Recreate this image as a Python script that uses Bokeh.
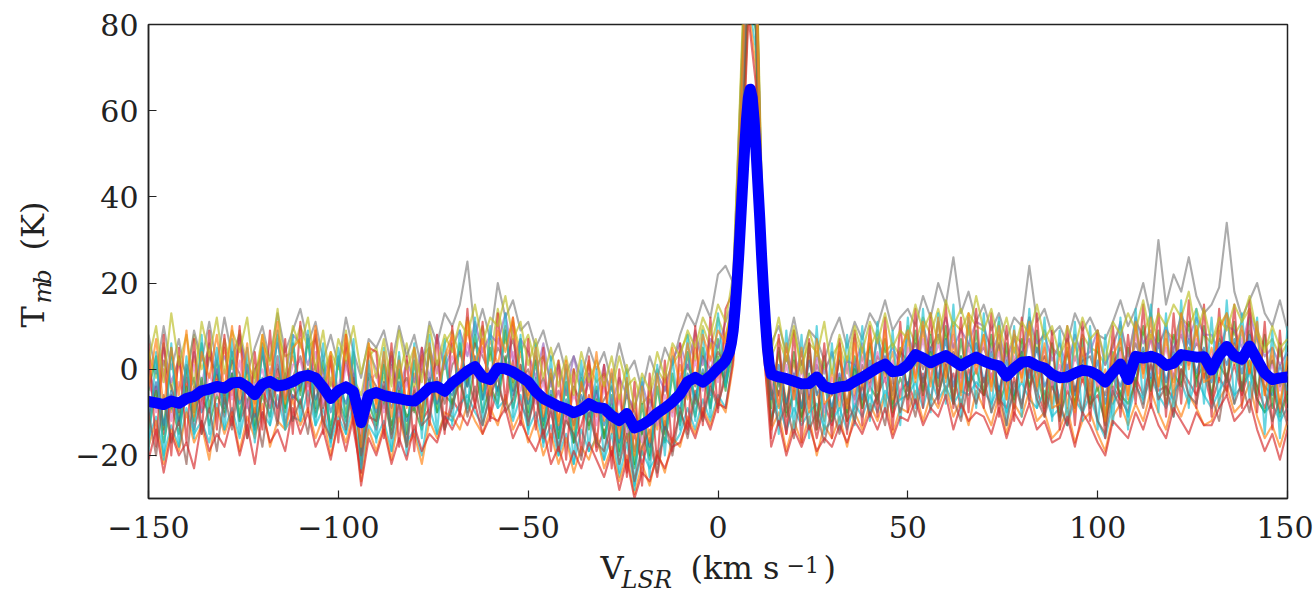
import math
from bokeh.plotting import figure
from bokeh.layouts import row, column
from bokeh.models import Range1d, Label, FixedTicker
from bokeh.embed import file_html
from bokeh.resources import INLINE

# ---------------- data ----------------
chan_v = list(range(-150, 151, 2))  # channel velocities of the individual spectra (km/s)

spec_00 = [1,-9,0,-10,2,-5,3,-8,4,-3,
           5,-6,6,-2,-8,4,-4,7,-3,3,
           -5,8,0,-6,2,-9,5,-3,-14,1,
           -8,2,-7,3,-9,-1,-10,4,-5,2,
           6,-4,9,2,-5,7,1,10,-3,4,
           -6,3,-9,-2,-12,0,-13,-4,2,-11,
           -3,-15,-6,-17,-8,-20,-5,-14,-2,-10,
           1,-7,5,-4,6,-2,8,14,58,105,
           92,18,-6,4,-8,2,-9,3,-5,-12,
           0,-9,3,-6,5,-3,8,-2,4,-7,
           7,-2,9,0,11,-3,6,-5,10,1,
           8,-4,6,-7,5,-2,10,-5,3,-8,
           4,-9,6,-3,7,-5,0,-8,8,-6,
           10,-1,8,-4,7,-3,11,0,9,-2,
           5,-3,12,1,9,-1,8,-6,3,-8,2]
spec_01 = [-12,-4,-15,-6,-13,-2,-14,-7,-10,-1,
           -11,-3,-12,-8,-14,-5,-9,0,-13,-6,
           -8,-2,-10,-5,-15,-9,-3,-12,-22,-10,
           -14,-5,-13,-8,-16,-4,-12,-9,-3,-14,
           -7,-10,-2,-8,-1,-11,-4,-9,2,-8,
           -12,-6,-15,-10,-18,-11,-17,-13,-6,-19,
           -14,-20,-12,-24,-15,-22,-16,-25,-13,-17,
           -10,-14,-5,-11,-3,-8,-2,6,48,92,
           80,9,-12,-5,-15,-4,-11,-6,-16,-8,
           -13,-5,-12,-9,-4,-10,-6,-2,-11,-5,
           -3,-8,-1,-7,2,-5,-1,-9,0,-4,
           -6,-1,-7,-9,-2,-8,0,-5,-10,-3,
           -11,-5,-9,-2,-8,-6,-12,-4,-7,-10,
           -2,-6,1,-5,-4,-7,0,-3,-6,-1,
           -8,-2,-5,1,-6,0,-4,-9,-3,-10,-5]
spec_02 = [4,-2,6,-5,3,-1,8,0,5,-2,
           7,0,9,1,-2,6,2,8,3,4,
           10,5,7,-1,4,0,9,-2,-6,3,
           5,-3,4,-2,6,-4,3,5,-1,6,
           9,3,12,5,10,2,14,6,11,4,
           8,1,3,-3,2,-6,0,-5,1,-3,
           -1,-5,3,-4,-2,-8,-6,0,-3,1,
           4,8,2,10,5,12,7,18,68,118,
           100,25,3,7,2,9,1,6,4,0,
           3,6,-1,8,2,5,9,4,6,3,
           10,6,12,8,14,7,11,9,13,10,
           9,5,11,3,8,6,12,4,9,5,
           3,7,2,8,5,4,1,6,10,3,
           11,8,13,6,9,7,12,10,14,8,
           6,10,13,8,11,14,9,5,7,3,6]
spec_03 = [-16,-11,-20,-13,-18,-9,-15,-12,-17,-8,
           -14,-9,-16,-7,-15,-10,-13,-6,-14,-11,
           -12,-5,-13,-9,-17,-11,-15,-8,-24,-13,
           -16,-12,-19,-10,-17,-14,-20,-9,-15,-11,
           -12,-8,-6,-10,-13,-5,-9,-7,-12,-6,
           -14,-10,-17,-13,-20,-15,-22,-14,-19,-16,
           -21,-15,-25,-17,-27,-19,-23,-20,-16,-18,
           -15,-9,-14,-7,-12,-6,-9,3,42,86,
           74,6,-11,-8,-14,-9,-13,-10,-8,-14,
           -12,-9,-14,-8,-11,-6,-10,-5,-9,-7,
           -6,-3,-9,-2,-7,-4,-8,-5,-6,-3,
           -5,-8,-4,-10,-6,-3,-7,-9,-5,-11,
           -9,-13,-7,-10,-6,-12,-16,-8,-5,-11,
           -4,-7,-2,-6,-9,-5,-3,-8,-2,-6,
           -9,-5,-2,-6,-4,-1,-7,-10,-8,-12,-9]
spec_04 = [-5,3,-14,5,-12,0,-10,6,-9,2,
           -8,4,-11,1,-13,5,-7,3,-10,6,
           -6,7,-9,2,-16,3,-11,4,-21,-2,
           -12,1,-14,0,-15,2,-11,5,-10,3,
           -9,6,-4,8,-7,5,-6,9,-5,7,
           -10,2,-13,-1,-16,-3,-17,-2,-14,-4,
           -16,-6,-19,-3,-22,-8,-20,-4,-15,-1,
           -12,4,-8,5,-9,7,-5,11,52,99,
           86,12,-9,5,-10,4,-11,6,-12,3,
           -11,4,-12,3,-9,6,-8,7,-10,5,
           -5,9,-6,8,-4,10,-7,7,-5,9,
           -6,8,-7,6,-9,7,-5,9,-8,6,
           -10,5,-9,7,-8,6,-11,4,-7,5,
           -4,10,-5,9,-6,8,-3,11,-4,10,
           -7,9,-3,11,-5,12,-6,8,-9,6,-8]
spec_05 = [-3,-8,2,-4,-10,1,-3,-9,3,-1,
           -6,2,-1,-8,0,3,-5,1,-7,-2,
           3,-4,1,-9,-3,-6,2,-7,-17,-1,
           -4,-9,1,-5,-2,-10,0,-3,2,-8,
           1,4,-2,6,3,-1,5,2,7,-3,
           0,-6,-2,-9,-5,-11,-4,-8,-3,-10,
           -7,-4,-12,-6,-10,-15,-7,-11,-4,-9,
           -2,1,-4,3,0,4,1,10,62,112,
           96,21,-1,-6,3,-4,2,-7,1,-3,
           -6,2,-3,-7,1,-4,3,0,-5,4,
           2,6,0,5,8,1,4,-2,6,3,
           5,0,6,-3,2,4,7,0,3,-1,
           -1,4,-5,2,3,-2,-6,1,5,0,
           6,1,7,3,0,5,8,2,6,4,
           2,7,4,6,1,9,3,-2,2,-4,0]
spec_06 = [-11,-3,-13,-5,-12,-7,-2,-10,-6,0,
           -9,-1,-8,-4,-11,-2,-6,-9,-1,-7,
           -4,0,-7,-2,-10,-4,-8,-1,-19,-5,
           -10,-4,-9,-3,-12,-6,-10,-2,-8,-4,
           -6,0,-4,3,-7,-1,-5,2,-6,1,
           -8,-2,-12,-5,-14,-7,-13,-6,-11,-5,
           -13,-8,-17,-11,-19,-12,-18,-9,-14,-7,
           -9,-1,-7,0,-6,2,-3,7,50,96,
           84,14,-7,1,-8,-1,-9,2,-6,-2,
           -9,-1,-8,1,-7,2,-5,3,-6,1,
           -4,4,-3,5,-2,7,-4,3,-3,6,
           -3,4,-5,2,-6,3,-2,5,-4,0,
           -7,1,-6,3,-5,2,-8,0,-4,2,
           0,5,-2,6,-3,4,1,7,-1,5,
           -3,6,1,7,-1,8,0,-4,-6,1,-5]
spec_07 = [8,-1,10,0,7,-3,9,2,11,1,
           12,3,8,-1,5,10,2,13,4,9,
           14,6,11,2,8,1,12,4,-2,7,
           5,9,1,10,3,8,0,11,6,13,
           10,15,25,8,14,7,20,12,16,9,
           11,5,9,2,6,-1,3,-2,5,0,
           4,-3,6,-1,2,-5,3,-2,5,1,
           8,13,10,16,12,22,24,20,65,110,
           95,24,6,10,4,12,3,9,7,2,
           8,12,5,11,7,13,10,16,9,12,
           14,10,17,12,20,15,26,13,18,11,
           15,9,13,7,12,10,24,11,14,8,
           10,6,13,9,12,8,7,11,16,10,
           14,20,12,30,15,22,18,26,17,13,
           15,19,34,18,12,16,20,13,10,16,9]
spec_08 = [-18,-12,-22,-14,-19,-10,-17,-13,-21,-9,
           -15,-10,-19,-11,-16,-8,-18,-12,-14,-7,
           -13,-9,-16,-11,-20,-12,-17,-10,-26,-14,
           -19,-13,-21,-11,-18,-15,-22,-12,-16,-10,
           -11,-14,-8,-12,-15,-9,-13,-6,-14,-10,
           -17,-12,-20,-15,-22,-16,-24,-18,-21,-15,
           -23,-18,-26,-20,-29,-22,-27,-19,-24,-16,
           -18,-11,-15,-9,-13,-7,-10,1,40,84,
           70,4,-14,-10,-19,-12,-17,-11,-20,-13,
           -16,-11,-18,-10,-14,-8,-12,-6,-15,-9,
           -10,-5,-12,-6,-9,-4,-11,-7,-13,-5,
           -9,-13,-6,-15,-8,-11,-5,-12,-10,-16,
           -14,-9,-17,-12,-10,-15,-19,-11,-8,-13,
           -8,-12,-5,-10,-14,-7,-11,-6,-9,-13,
           -12,-7,-4,-10,-8,-3,-11,-16,-13,-18,-12]
spec_09 = [0,-6,5,-3,2,-7,4,-4,6,-1,
           3,-2,7,0,-4,5,-1,6,-2,8,
           6,1,8,-2,3,-5,6,-1,-9,4,
           0,-5,3,-6,2,-3,5,-2,8,0,
           5,9,3,11,4,8,6,13,2,7,
           4,-2,6,-4,1,-6,3,-5,-1,-7,
           1,-8,-2,-6,-9,-3,-10,-1,-5,2,
           6,0,9,1,7,5,11,16,60,102,
           90,19,2,-4,5,-2,4,-6,3,-1,
           4,-3,2,1,6,-2,7,2,5,1,
           8,3,10,4,7,12,5,9,6,11,
           10,4,8,2,7,3,12,6,8,2,
           6,0,8,3,4,9,1,5,11,2,
           12,6,9,5,10,4,13,7,12,8,
           8,4,10,9,5,13,7,3,5,1,4]
spec_10 = [-14,-5,-17,-8,-15,-4,-12,-2,-13,-6,
           -10,-1,-12,-3,-14,-6,-11,-2,-9,-4,
           -9,0,-11,-5,-13,-7,-12,-3,-20,-8,
           -13,-7,-15,-5,-11,-9,-14,-3,-10,-6,
           -8,-3,-9,1,-10,-4,-8,3,-9,-2,
           -11,-4,-14,-6,-16,-8,-17,-9,-13,-7,
           -16,-9,-20,-12,-23,-14,-21,-10,-17,-6,
           -13,-4,-11,-1,-9,3,-4,4,46,90,
           78,10,-13,-2,-11,-5,-12,-1,-14,-3,
           -12,-2,-10,0,-9,-4,-7,1,-8,-2,
           -7,2,-5,4,-6,1,-8,3,-4,0,
           -6,2,-8,-3,-7,4,-4,0,-9,-1,
           -12,-2,-8,1,-9,-4,-13,-2,-6,-8,
           -3,4,-5,2,-8,-1,-4,5,-2,1,
           -6,1,-2,4,-5,2,-7,-10,-4,-11,-6]
spec_11 = [-2,-10,0,-12,-3,-8,1,-9,-1,-6,
           0,-7,2,-9,-4,0,-8,3,-6,1,
           2,-5,4,-8,-2,-10,1,-6,-15,-3,
           -1,-10,0,-11,-3,-8,2,-9,1,-7,
           3,-1,6,-2,5,-4,7,0,4,-5,
           -1,-8,-3,-11,-5,-12,-6,-10,-2,-13,
           -4,-12,-7,-15,-11,-17,-9,-13,-6,-11,
           -1,-6,2,-5,3,-3,6,12,55,100,
           88,16,-3,-8,1,-7,0,-9,2,-10,
           -2,-7,1,-8,3,-5,4,-3,2,-6,
           5,-1,7,-2,6,0,8,-3,5,-1,
           6,-2,4,-5,3,-1,7,-3,5,-4,
           1,-5,3,-2,6,-4,-1,-6,4,-3,
           8,0,7,-1,5,-2,9,1,7,0,
           3,8,6,2,7,10,4,-3,1,-5,-1]
spec_12 = [6,-18,8,-20,5,-17,7,-15,9,-14,
           8,-13,10,-16,4,-14,9,-12,7,-15,
           11,-10,9,-15,3,-17,8,-14,-24,5,
           4,-16,6,-18,3,-19,5,-13,8,-15,
           10,-11,14,-9,11,-12,13,-8,12,-13,
           7,-14,5,-19,2,-21,0,-20,3,-18,
           1,-23,0,-25,-3,-27,-1,-22,2,-19,
           6,-15,10,-13,12,-10,14,18,60,108,
           94,20,-16,8,-15,9,-17,7,-14,6,
           -16,7,-15,9,-13,10,-11,12,-14,11,
           -10,14,-9,13,-8,15,-9,12,-10,14,
           -9,13,-11,10,-12,12,-8,13,-11,9,
           -14,10,-13,11,-12,9,-16,10,-11,8,
           -8,15,-9,14,-11,13,-8,16,-9,15,
           -11,14,-6,15,-9,16,-10,11,-14,9,-13]
spec_13 = [-19,4,-21,6,-18,3,-16,8,-15,5,
           -14,7,-15,5,-17,6,-13,9,-14,8,
           -12,9,-13,6,-18,5,-15,7,-23,2,
           -17,5,-19,4,-20,6,-16,8,-15,7,
           -13,9,-10,12,-12,10,-9,13,-11,8,
           -15,6,-18,3,-20,1,-22,2,-19,0,
           -21,-1,-24,0,-28,-2,-25,1,-20,3,
           -14,8,-12,9,-11,13,-4,9,54,100,
           86,15,7,-15,9,-14,8,-16,10,-15,
           6,-14,8,-13,10,-12,11,-10,9,-13,
           12,-9,14,-10,13,-8,15,-11,12,-9,
           13,-10,12,-13,10,-11,14,-9,12,-12,
           9,-13,11,-12,10,-14,8,-13,12,-14,
           14,-8,15,-10,13,-11,16,-9,14,-8,
           12,-9,16,-8,13,-7,12,-15,9,-16,10]
spec_14 = [-10,-20,-6,-17,-12,-22,-4,-15,-9,-19,
           -6,-14,-2,-16,-9,-18,-5,-13,-1,-12,
           -7,-15,-3,-12,-16,-8,-14,-2,-20,-11,
           -12,-3,-16,-8,-18,-5,-13,-11,-2,-14,
           -9,-1,-11,-4,-13,-6,-2,-10,-7,1,
           -13,-5,-16,-9,-19,-12,-15,-21,-10,-17,
           -19,-12,-22,-15,-26,-18,-14,-24,-12,-20,
           -9,-16,-6,-12,-4,-9,0,5,45,95,
           82,11,-5,-13,-8,-16,-4,-14,-10,-17,
           -9,-15,-7,-12,-3,-11,-6,-13,-2,-10,
           -4,-11,-2,-9,-6,1,-7,-12,-3,-8,
           -2,-10,-5,-13,-3,-9,1,-7,-11,-4,
           -8,-13,-4,-10,-2,-12,-15,-5,-9,-1,
           -3,-9,2,-7,-4,-11,0,-6,-8,1,
           -6,-12,-1,-8,-3,-10,2,-5,-12,-7,-13]
spec_15 = [2,10,-3,13,1,8,-4,11,3,12,
           -1,9,4,12,-3,8,1,14,-2,10,
           5,12,0,9,-4,7,2,10,-1,6,
           -2,7,-4,9,0,5,-3,10,1,8,
           4,11,8,15,6,12,10,17,7,11,
           1,7,-2,5,-4,3,-6,4,-3,2,
           -4,3,-7,1,-9,-1,-5,4,-2,6,
           3,9,5,12,8,15,11,22,66,115,
           98,23,4,12,2,10,-1,9,3,11,
           -1,8,2,10,4,11,6,13,5,9,
           7,15,9,13,6,16,10,14,8,17,
           9,14,6,12,4,11,8,15,7,10,
           3,10,5,12,7,9,2,11,8,13,
           9,16,7,13,10,15,12,18,8,14,
           6,12,9,15,11,17,8,4,10,5,7]
spec_16 = [-21,-14,-24,-15,-20,-17,-23,-12,-19,-15,
           -18,-11,-20,-13,-22,-10,-17,-14,-19,-9,
           -15,-10,-18,-14,-21,-12,-19,-11,-27,-16,
           -20,-14,-22,-16,-21,-13,-19,-15,-17,-11,
           -14,-10,-13,-8,-15,-11,-12,-9,-16,-12,
           -16,-19,-14,-22,-18,-24,-19,-23,-17,-21,
           -25,-19,-28,-21,-30,-24,-26,-20,-23,-18,
           -17,-12,-16,-10,-14,-8,-9,2,38,82,
           66,5,-18,-12,-20,-14,-18,-13,-19,-16,
           -18,-13,-17,-12,-15,-10,-14,-9,-16,-11,
           -12,-7,-13,-9,-11,-6,-14,-8,-12,-10,
           -11,-15,-9,-16,-10,-13,-8,-14,-12,-17,
           -16,-11,-18,-10,-13,-17,-20,-12,-14,-16,
           -10,-14,-8,-13,-16,-9,-12,-15,-10,-13,
           -13,-9,-6,-12,-10,-7,-14,-19,-15,-21,-14]
spec_17 = [-4,7,-9,5,-6,9,-11,4,-2,8,
           -5,10,-7,6,-10,8,-3,11,-8,5,
           7,-3,10,-6,4,-11,8,-5,-18,6,
           -9,4,-11,2,-8,5,-12,6,-7,3,
           8,-2,11,1,7,-6,9,4,12,-1,
           -7,5,-11,0,-13,2,-14,-3,-9,4,
           -12,0,-16,-2,-20,-4,-17,-1,-13,5,
           -4,6,-3,8,2,9,6,15,57,106,
           90,17,4,-9,6,-7,5,-10,7,-8,
           -6,5,-9,6,-4,8,-5,9,-7,4,
           9,-3,11,-4,12,-2,10,-6,13,-1,
           8,-5,10,-7,9,-3,11,-4,6,-9,
           -8,6,-10,5,-6,8,-12,3,7,-7,
           11,-2,12,-4,9,-6,13,1,10,-3,
           -2,9,13,4,10,-1,11,-6,5,-9,3]

spectra = [spec_00, spec_01, spec_02, spec_03, spec_04, spec_05,
           spec_06, spec_07, spec_08, spec_09, spec_10, spec_11,
           spec_12, spec_13, spec_14, spec_15, spec_16, spec_17]
spec_colors = ["#ff7f0e", "#d62728", "#bcbd22", "#17becf", "#2ca02c", "#8c564b",
               "#1f77b4", "#7f7f7f", "#ff7f0e", "#9467bd", "#2ca02c", "#e377c2",
               "#d62728", "#17becf", "#8c564b", "#bcbd22", "#d62728", "#ff7f0e"]

# averaged spectrum (thick blue)
mean_v = (list(range(-150, 1, 2))
          + [1, 2, 3, 3.5, 4, 4.5, 5, 5.5, 6, 6.5, 7, 7.5, 8, 8.5, 9, 9.5,
             10, 10.5, 11, 11.5, 12, 12.5, 13, 13.5, 14]
          + list(range(16, 151, 2)))
mean_t = [-7.5,-7.8,-8.2,-7.4,-7.9,-6.8,-6.3,-5.0,-4.6,-4.0,
          -4.4,-3.2,-3.0,-4.1,-5.9,-3.5,-2.8,-3.9,-3.6,-2.9,
          -1.8,-1.4,-2.0,-4.2,-6.8,-5.0,-4.1,-5.2,-12.4,-6.0,
          -5.4,-6.1,-6.5,-6.8,-7.2,-7.4,-6.0,-4.3,-4.0,-5.1,
          -3.2,-1.9,-0.4,0.6,-1.8,-2.4,0.3,0.1,-0.6,-1.7,
          -2.9,-5.2,-6.8,-7.7,-8.6,-9.2,-10.1,-9.4,-8.0,-8.9,
          -9.1,-10.8,-11.9,-10.3,-13.6,-12.9,-11.8,-10.2,-9.0,-7.6,
          -5.8,-2.9,-1.9,-3.0,-1.6,0.3,
          1.0,2.0,4.0,6.0,9.0,14,20,27,35,43,51,58,63,65,63,58,51,43,35,26,18,11,5,1,-1.2,
          -1.8,-2.2,-2.8,-3.4,-3.3,-1.8,-4.0,-4.6,-4.1,-3.9,
          -2.8,-1.9,-0.8,0.3,1.2,-0.6,-0.3,1.0,3.4,2.6,
          1.5,2.4,3.2,2.0,0.8,1.9,2.8,1.9,1.2,0.8,
          -1.6,0.2,1.6,1.8,0.8,0.3,-1.2,-2.0,-1.8,-0.9,
          -0.2,-0.5,-1.4,-3.0,-0.8,1.2,-2.4,3.0,2.6,3.0,
          2.4,0.9,1.4,3.4,3.1,2.8,2.9,-0.2,3.2,5.3,
          3.1,2.3,5.4,2.2,-0.9,-2.4,-2.0,-1.8]

x_ticks = [-150, -100, -50, 0, 50, 100, 150]
y_ticks = [-20, 0, 20, 40, 60, 80]

# ---------------- layout geometry (page pixels) ----------------
FONT = "DejaVu Serif"
INK = "#222222"
YLAB_W = 70                      # width of the strip holding the y title
FL, FT, FW, FH = 148, 24, 1139, 474
MAIN_L = FL - YLAB_W
MAIN_R = 26
MAIN_B = 70
MAIN_H = FT + FH + MAIN_B
XLAB_TOP = 548                   # page y where the x-title strip starts
XLAB_H = 45
TOTAL_W = YLAB_W + MAIN_L + FW + MAIN_R

# ---------------- main figure ----------------
p = figure(frame_width=FW, frame_height=FH, output_backend="svg", toolbar_location=None,
           x_range=Range1d(-150, 150), y_range=Range1d(-30, 80),
           min_border_left=MAIN_L, min_border_top=FT, min_border_right=MAIN_R,
           min_border_bottom=MAIN_B)
p.background_fill_color = "white"
p.border_fill_color = None
p.outline_line_color = INK
p.outline_line_width = 1.5
p.xgrid.visible = False
p.ygrid.visible = False

for ax, ticks, standoff in ((p.xaxis[0], x_ticks, 17), (p.yaxis[0], y_ticks, 10)):
    ax.ticker = FixedTicker(ticks=ticks)
    ax.major_label_overrides = {t: (str(t).replace("-", "\u2212")) for t in ticks}
    ax.major_tick_in = 8
    ax.major_tick_out = 0
    ax.minor_tick_line_color = None
    ax.major_tick_line_color = INK
    ax.major_tick_line_width = 1.2
    ax.axis_line_color = INK
    ax.axis_line_width = 1.5
    ax.major_label_text_font = FONT
    ax.major_label_text_font_size = "30px"
    ax.major_label_text_color = INK
    ax.major_label_standoff = standoff

for vals, col in zip(spectra, spec_colors):
    p.line(chan_v, vals, line_color=col, line_alpha=0.65, line_width=2.1, line_join="round")

p.line(mean_v, mean_t, line_color="#0000ff", line_width=11, line_join="round", line_cap="round")


# ---------------- title strips (real text; data units == page pixels) ----------------
def strip(w, h, y_top, y_bottom, **kw):
    f = figure(width=w, height=h, output_backend="svg", toolbar_location=None,
               x_range=Range1d(0, w), y_range=Range1d(y_bottom, y_top),
               x_axis_location=None, y_axis_location=None, min_border=0, **kw)
    f.outline_line_color = None
    f.xgrid.visible = False
    f.ygrid.visible = False
    f.background_fill_color = None
    f.border_fill_color = None
    return f


def lab(fig, text, x, y, size, italic=False, angle=0.0):
    # (x, y) = page pixel of the start of the text, at the middle of its height
    fig.add_layout(Label(x=x, y=y, text=text, text_font=FONT,
                         text_font_size=f"{size}px", text_color=INK,
                         text_font_style="italic" if italic else "normal",
                         text_align="left", text_baseline="middle", angle=angle))


# y title strip: its frame is aligned with the main frame (page y FT..FT+FH)
ys = strip(YLAB_W, MAIN_H, FT, FT + FH)
lab(ys, "T", 32, 327, 32, angle=math.pi / 2)
lab(ys, "m", 42, 303, 24, italic=True, angle=math.pi / 2)
lab(ys, "b", 42, 284, 24, italic=True, angle=math.pi / 2)
lab(ys, "(K)", 32, 250, 32, angle=math.pi / 2)

# x title strip: page y XLAB_TOP..XLAB_TOP+XLAB_H (pulled up over the empty border)
xs = strip(TOTAL_W, XLAB_H, XLAB_TOP, XLAB_TOP + XLAB_H, margin=(XLAB_TOP - MAIN_H, 0, 0, 0))
lab(xs, "V", 600, 567, 32)
lab(xs, "LSR", 621, 579, 24, italic=True)
lab(xs, "(km s", 690, 567, 32)
lab(xs, "\u22121", 786, 564, 22)
lab(xs, ")", 823, 567, 32)

layout = column(row(ys, p, spacing=0), xs, spacing=0)

open("out.html", "w").write(file_html(layout, INLINE))
